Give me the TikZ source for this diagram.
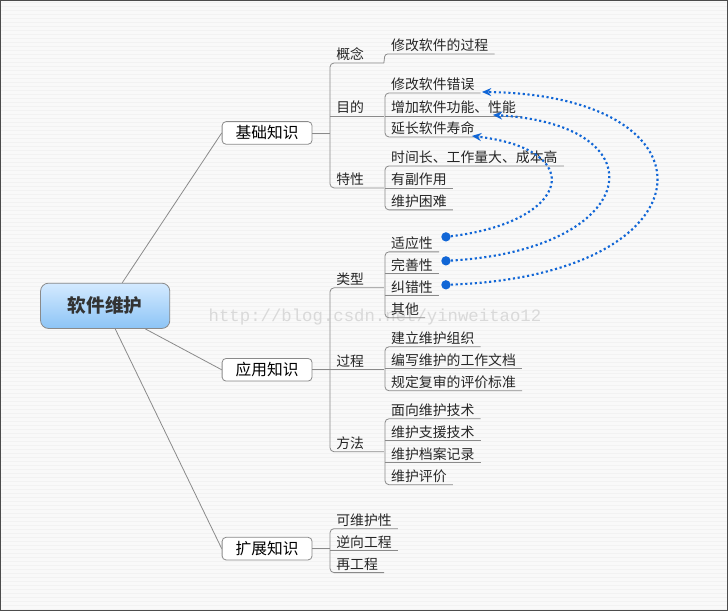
\documentclass[tikz,border=0pt]{standalone}
\usepackage{fontspec}
\newfontfamily\cjk{Noto Sans CJK SC}
\setmonofont{Liberation Mono}
\usetikzlibrary{arrows.meta}
\definecolor{ln}{HTML}{8A8A8A}
\definecolor{arrc}{HTML}{1166D6}
\definecolor{rtop}{HTML}{D4EAFF}
\definecolor{rbot}{HTML}{8CC4F6}
\tikzset{
 lf/.style={anchor=south west, inner xsep=4.5pt, inner ysep=1.5pt, font=\cjk\fontsize{10.4}{12}\selectfont, text=black!85},
 lt/.style={lf, text width=31pt},
 ln/.style={draw=ln, line width=0.6pt},
 lone/.style={draw=ln, line width=0.6pt, rounded corners=3pt, fill=white, minimum width=67.5pt, minimum height=17pt, inner sep=1pt, font=\cjk\fontsize{11.8}{13}\selectfont},
 arr/.style={draw=arrc, line width=1.6pt, dotted, -{Stealth[length=7pt,width=6pt,open]}},
 dotc/.style={circle, fill=arrc, inner sep=0pt, minimum size=7pt}
}
\begin{document}
\begin{tikzpicture}[x=0.75pt,y=-0.75pt]
\fill[gray!5] (0,0) rectangle (728,611);
\foreach \i in {2,6,...,610} \draw[gray!10,line width=0.4pt] (0,\i) -- (728,\i);
\draw[gray!60!black,line width=0.8pt] (0.5,0.5) rectangle (727.5,610.5);
\useasboundingbox (0,0) rectangle (728,611);
\node[text=gray!30,font=\ttfamily\fontsize{13}{15}\selectfont] (wm) at (375,317) {http://blog.csdn.net/yinweitao12};

% root
\node[draw=ln, line width=0.6pt, rounded corners=6pt, top color=rtop, bottom color=rbot, minimum width=97pt, minimum height=34pt, font=\cjk\bfseries\fontsize{14}{16}\selectfont, text=black!80] (root) at (105,306) {软件维护};

\node[lone] (j1) at (267,133) {基础知识};
\node[lone] (j2) at (267,370) {应用知识};
\node[lone] (j3) at (267,549) {扩展知识};
\draw[ln] (root.north east)++(-48,0) -- (j1.west);
\draw[ln] (root.south east)++(-25,0) -- (j2.west);
\draw[ln] (root.south)++(10,0) -- (j3.west);

% ---- 基础知识
\node[lt] (g1) at (330,63) {概念};
\node[lt] (g2) at (330,116) {目的};
\node[lt] (g3) at (330,188) {特性};
\draw[ln,rounded corners=3pt] (g1.south east) -- (g1.south west) -- (g3.south west) -- (g3.south east);
\draw[ln] (g2.south west) -- (g2.south east);
\draw[ln] (j1.east) -- (g2.south west |- j1.east);

\node[lf] (g1a) at (385,54) {修改软件的过程};
\draw[ln,rounded corners=2pt] (g1.south east) -- (g1a.south west) -- (g1a.south east);

\node[lf] (g2a) at (385,93) {修改软件错误};
\node[lf] (g2b) at (385,116) {增加软件功能、性能};
\node[lf] (g2c) at (385,137) {延长软件寿命};
\draw[ln,rounded corners=3pt] (g2a.south east) -- (g2a.south west) -- (g2c.south west) -- (g2c.south east);
\draw[ln] (g2b.south west) -- (g2b.south east);

\node[lf] (g3a) at (385,166) {时间长、工作量大、成本高};
\node[lf] (g3b) at (385,188) {有副作用};
\node[lf] (g3c) at (385,210) {维护困难};
\draw[ln,rounded corners=3pt] (g3a.south east) -- (g3a.south west) -- (g3c.south west) -- (g3c.south east);
\draw[ln] (g3b.south west) -- (g3b.south east);

% ---- 应用知识
\node[lt] (y1) at (330,288) {类型};
\node[lt] (y2) at (330,370) {过程};
\node[lt] (y3) at (330,452) {方法};
\draw[ln,rounded corners=3pt] (y1.south east) -- (y1.south west) -- (y3.south west) -- (y3.south east);
\draw[ln] (y2.south west) -- (y2.south east);
\draw[ln] (j2.east) -- (y2.south west |- j2.east);

\node[lf] (y1a) at (385,252) {适应性};
\node[lf] (y1b) at (385,274) {完善性};
\node[lf] (y1c) at (385,296) {纠错性};
\node[lf] (y1d) at (385,318) {其他};
\draw[ln,rounded corners=3pt] (y1a.south east) -- (y1a.south west) -- (y1d.south west) -- (y1d.south east);
\draw[ln] (y1b.south west) -- (y1b.south east);
\draw[ln] (y1c.south west) -- (y1c.south east);

\node[lf] (y2a) at (385,347) {建立维护组织};
\node[lf] (y2b) at (385,369) {编写维护的工作文档};
\node[lf] (y2c) at (385,391) {规定复审的评价标准};
\draw[ln,rounded corners=3pt] (y2a.south east) -- (y2a.south west) -- (y2c.south west) -- (y2c.south east);
\draw[ln] (y2b.south west) -- (y2b.south east);

\node[lf] (y3a) at (385,419) {面向维护技术};
\node[lf] (y3b) at (385,441) {维护支援技术};
\node[lf] (y3c) at (385,463) {维护档案记录};
\node[lf] (y3d) at (385,485) {维护评价};
\draw[ln,rounded corners=3pt] (y3a.south east) -- (y3a.south west) -- (y3d.south west) -- (y3d.south east);
\draw[ln] (y3b.south west) -- (y3b.south east);
\draw[ln] (y3c.south west) -- (y3c.south east);

% ---- 扩展知识
\node[lf] (k1) at (330,529) {可维护性};
\node[lf] (k2) at (330,551) {逆向工程};
\node[lf] (k3) at (330,573) {再工程};
\draw[ln,rounded corners=3pt] (k1.south east) -- (k1.south west) -- (k3.south west) -- (k3.south east);
\draw[ln] (k2.south west) -- (k2.south east);
\draw[ln] (j3.east) -- (k2.south west |- j3.east);

% ---- arrows
\node[dotc] (c1) at (446,237) {};
\node[dotc] (c2) at (446,261) {};
\node[dotc] (c3) at (446,285) {};
\coordinate (t1) at (472,136);
\coordinate (t2) at (493,115);
\coordinate (t3) at (482,92);
\draw[arr] (c1) .. controls (570,222) and (590,150) .. (t1);
\draw[arr] (c2) .. controls (640,250) and (665,125) .. (t2);
\draw[arr] (c3) .. controls (715,275) and (725,95) .. (t3);
\end{tikzpicture}
\end{document}
